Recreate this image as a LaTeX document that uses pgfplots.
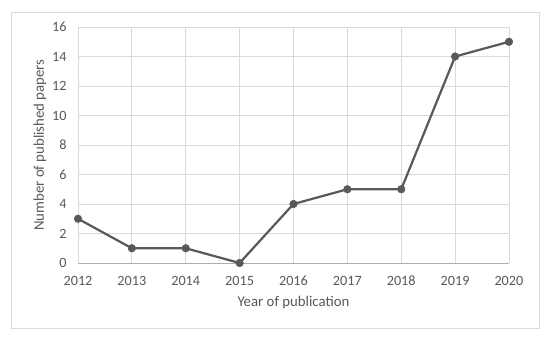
\documentclass[border=0pt]{standalone}
\usepackage{pgfplots}
\pgfplotsset{compat=1.18}
\usepackage{fontspec}
\setmainfont{Carlito}
\definecolor{txt}{HTML}{595959}
\definecolor{grd}{HTML}{D9D9D9}
\definecolor{ln}{HTML}{595959}
\begin{document}
\begin{tikzpicture}[x=1pt,y=1pt]
\useasboundingbox (-78,-75) rectangle (472,263);
\fill[white] (-78,-75) rectangle (472,263);
\draw[grd, line width=0.9pt] (-67,-65) rectangle (461,251);
\begin{axis}[
  at={(0,0)}, anchor=south west,
  scale only axis, width=431pt, height=236pt,
  xmin=2012, xmax=2020, ymin=0, ymax=16,
  xtick={2012,...,2020}, ytick={0,2,...,16},
  grid=major, major grid style={grd, line width=0.8pt},
  axis x line*=bottom, axis y line*=left,
  x axis line style={color=grd!80!black, line width=0.8pt, -},
  y axis line style={draw=none},
  major tick length=0pt,
  xticklabel style={/pgf/number format/1000 sep={}, yshift=-9pt, text height=9.5pt, text depth=0pt},
  yticklabel style={xshift=-8pt},
  ticklabel style={font=\fontsize{14.2}{16}\selectfont, color=txt},
  /pgf/number format/assume math mode=true,
  xlabel={Year of publication}, ylabel={Number of published papers},
  label style={font=\fontsize{14.8}{17}\selectfont, color=txt},
  xlabel style={yshift=-4pt},
  ylabel style={yshift=-1pt},
  clip=false,
]
\addplot[ln, line width=2.2pt, mark=*, mark size=3.8pt, mark options={fill=ln, draw=ln, line width=0.5pt}]
  coordinates {(2012,3) (2013,1) (2014,1) (2015,0) (2016,4) (2017,5) (2018,5) (2019,14) (2020,15)};
\end{axis}
\end{tikzpicture}
\end{document}
